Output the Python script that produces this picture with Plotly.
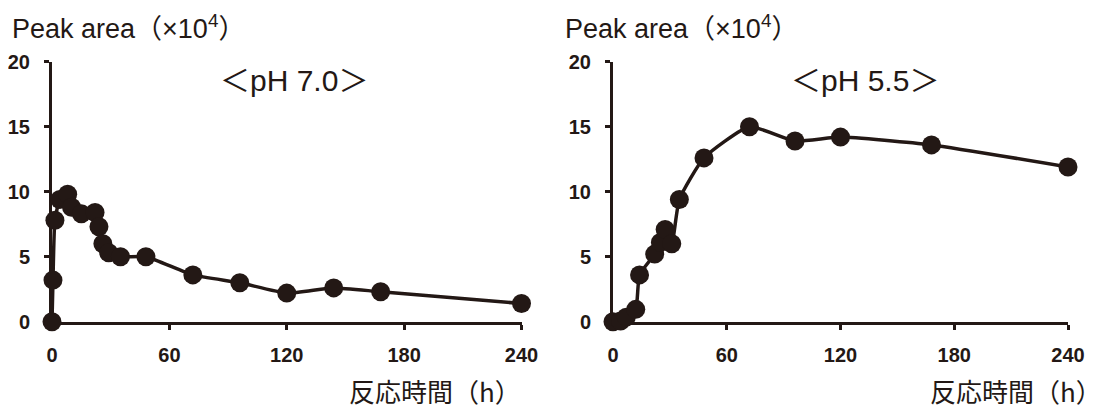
import plotly.graph_objects as go

# ---- data ----
time_ph70 = [0, 0.5, 1.5, 4, 8, 10, 15, 22, 24, 26, 29, 35, 48, 72, 96, 120, 144, 168, 240]
area_ph70 = [0, 3.2, 7.8, 9.4, 9.8, 8.8, 8.3, 8.4, 7.3, 6.0, 5.3, 5.0, 5.0, 3.6, 3.0, 2.2, 2.6, 2.3, 1.4]

time_ph55 = [0, 4, 7, 12, 14, 22, 25, 27.5, 31, 35, 48, 72, 96, 120, 168, 240]
area_ph55 = [0, 0.05, 0.35, 0.95, 3.6, 5.2, 6.1, 7.1, 6.0, 9.4, 12.6, 15.0, 13.9, 14.2, 13.6, 11.9]

x_ticks = [0, 60, 120, 180, 240]
y_ticks = [0, 5, 10, 15, 20]
panel_labels = ["＜pH 7.0＞", "＜pH 5.5＞"]
y_title = "Peak area（×10<sup>4</sup>）"
x_title = "反応時間（h）"

# the page body has an 8px default margin; size the figure so it fills the window
OFF = 8
W, H = 1105 - OFF, 408 - OFF
INK = "#231815"

def px(x):
    # x in window pixels -> paper fraction
    return (x - OFF) / W

def py(y):
    # y in window pixels (from top) -> paper fraction
    return (H - (y - OFF)) / H

fig = go.Figure()

for i, (xs, ys) in enumerate([(time_ph70, area_ph70), (time_ph55, area_ph55)]):
    fig.add_trace(go.Scatter(
        x=xs, y=ys, mode="lines+markers",
        xaxis="x" if i == 0 else "x2", yaxis="y" if i == 0 else "y2",
        line=dict(color=INK, width=3.5, shape="spline", smoothing=0.5),
        marker=dict(color=INK, size=19, line=dict(width=0)),
        cliponaxis=False, showlegend=False, hoverinfo="skip",
    ))

ydom = [py(321.7), py(61.7)]
axis_common = dict(
    showline=True, linecolor=INK, linewidth=3, mirror=False,
    ticks="outside", ticklen=5, tickwidth=3, tickcolor=INK,
    showgrid=False, zeroline=False, layer="below traces",
    tickfont=dict(family="Liberation Sans, Arial, sans-serif", size=20, color=INK, weight="bold"),
    fixedrange=True, automargin=False,
)

fig.update_layout(
    width=W, height=H,
    margin=dict(l=0, r=0, t=0, b=0, pad=0, autoexpand=False),
    paper_bgcolor="white", plot_bgcolor="white",
    xaxis=dict(domain=[px(52), px(521.5)], range=[0, 240], tickvals=x_ticks,
               anchor="y", ticklabelstandoff=8, **axis_common),
    yaxis=dict(domain=ydom, range=[0, 20], tickvals=y_ticks, anchor="x",
               ticklabelstandoff=10, **axis_common),
    xaxis2=dict(domain=[px(613), px(1068)], range=[0, 240], tickvals=x_ticks,
                anchor="y2", ticklabelstandoff=8, **axis_common),
    yaxis2=dict(domain=ydom, range=[0, 20], tickvals=y_ticks, anchor="x2",
                ticklabelstandoff=10, **axis_common),
)

txt_font = dict(family="Liberation Sans, Noto Sans CJK JP, sans-serif", size=27, color=INK)
lab_font = dict(family="Liberation Sans, Noto Sans CJK JP, sans-serif", size=30, color=INK)
cjk_font = dict(family="Noto Sans CJK JP, sans-serif", size=26, color=INK)

annos = []
for title_x, xt_right in [(10, 523), (563, 1104)]:
    annos.append(dict(text=y_title, x=px(title_x), y=1, xref="paper", yref="paper",
                      xanchor="left", yanchor="top", showarrow=False, font=txt_font))
    annos.append(dict(text=x_title, x=px(xt_right), y=py(390), xref="paper", yref="paper",
                      xanchor="right", yanchor="middle", showarrow=False, font=cjk_font))
annos.append(dict(text=panel_labels[0], x=px(294), y=py(80), xref="paper", yref="paper",
                  xanchor="center", yanchor="middle", showarrow=False, font=lab_font))
annos.append(dict(text=panel_labels[1], x=px(865), y=py(80), xref="paper", yref="paper",
                  xanchor="center", yanchor="middle", showarrow=False, font=lab_font))
fig.update_layout(annotations=annos)

fig.write_html("out.html")
